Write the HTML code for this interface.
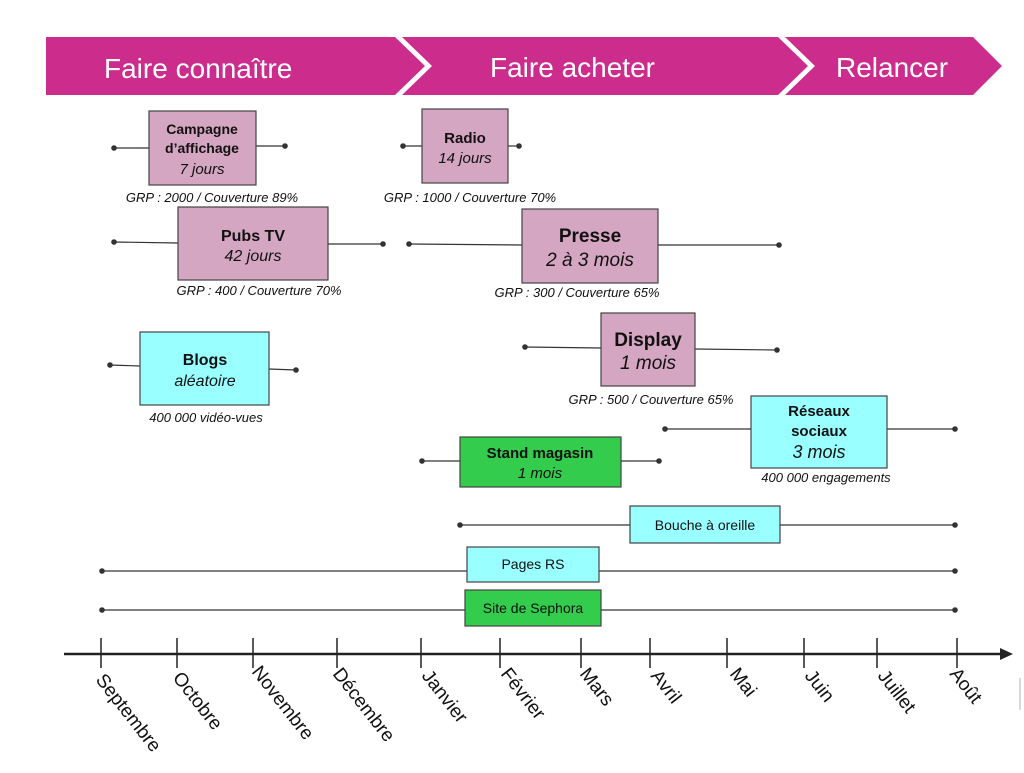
<!DOCTYPE html>
<html><head><meta charset="utf-8"><style>
body{margin:0;background:#fff;width:1024px;height:768px;overflow:hidden;font-family:"Liberation Sans",sans-serif}
svg text{font-family:"Liberation Sans",sans-serif}
</style></head><body>
<svg width="1024" height="768" viewBox="0 0 1024 768">
<g fill="#cc2d8c">
<polygon points="46,37 395,37 425,66 395,95 46,95"/>
<polygon points="402,37 778,37 808,66 778,95 402,95 432,66"/>
<polygon points="785,37 973,37 1002,66 973,95 785,95 815,66"/>
</g>
<g fill="#fff" font-size="28">
<text x="104" y="78">Faire connaître</text>
<text x="490" y="77">Faire acheter</text>
<text x="836" y="77">Relancer</text>
</g>
<g stroke="#333" stroke-width="1.2" fill="#333">
<line x1="114" y1="148" x2="149" y2="148"/><line x1="256" y1="146" x2="285" y2="146"/>
<circle cx="114" cy="148" r="2.2"/><circle cx="285" cy="146" r="2.2"/>
<line x1="403" y1="146" x2="422" y2="146"/><line x1="508" y1="146" x2="519" y2="146"/>
<circle cx="403" cy="146" r="2.2"/><circle cx="519" cy="146" r="2.2"/>
<line x1="114" y1="242" x2="178" y2="243"/><line x1="328" y1="244" x2="383" y2="244"/>
<circle cx="114" cy="242" r="2.2"/><circle cx="383" cy="244" r="2.2"/>
<line x1="409" y1="244" x2="522" y2="245"/><line x1="658" y1="245" x2="779" y2="245"/>
<circle cx="409" cy="244" r="2.2"/><circle cx="779" cy="245" r="2.2"/>
<line x1="110" y1="365" x2="140" y2="366"/><line x1="269" y1="369" x2="296" y2="370"/>
<circle cx="110" cy="365" r="2.2"/><circle cx="296" cy="370" r="2.2"/>
<line x1="525" y1="347" x2="601" y2="348"/><line x1="695" y1="349" x2="777" y2="350"/>
<circle cx="525" cy="347" r="2.2"/><circle cx="777" cy="350" r="2.2"/>
<line x1="665" y1="429" x2="751" y2="429"/><line x1="887" y1="429" x2="955" y2="429"/>
<circle cx="665" cy="429" r="2.2"/><circle cx="955" cy="429" r="2.2"/>
<line x1="422" y1="461" x2="460" y2="461"/><line x1="621" y1="461" x2="659" y2="461"/>
<circle cx="422" cy="461" r="2.2"/><circle cx="659" cy="461" r="2.2"/>
<line x1="460" y1="525" x2="955" y2="525"/>
<circle cx="460" cy="525" r="2.2"/><circle cx="955" cy="525" r="2.2"/>
<line x1="102" y1="571" x2="955" y2="571"/>
<circle cx="102" cy="571" r="2.2"/><circle cx="955" cy="571" r="2.2"/>
<line x1="102" y1="610" x2="955" y2="610"/>
<circle cx="102" cy="610" r="2.2"/><circle cx="955" cy="610" r="2.2"/>
</g>
<g stroke="#444" stroke-width="1.2">
<rect x="149" y="111" width="107" height="74" fill="#d5a6c1"/>
<rect x="422" y="109" width="86" height="74" fill="#d5a6c1"/>
<rect x="178" y="207" width="150" height="73" fill="#d5a6c1"/>
<rect x="522" y="209" width="136" height="74" fill="#d5a6c1"/>
<rect x="140" y="332" width="129" height="73" fill="#99ffff"/>
<rect x="601" y="313" width="94" height="73" fill="#d5a6c1"/>
<rect x="751" y="396" width="136" height="72" fill="#99ffff"/>
<rect x="460" y="437" width="161" height="50" fill="#33cc4d"/>
<rect x="630" y="506" width="150" height="37" fill="#99ffff"/>
<rect x="467" y="547" width="132" height="35" fill="#99ffff"/>
<rect x="465" y="590" width="136" height="36" fill="#33cc4d"/>
</g>
<g text-anchor="middle" fill="#111">
<text x="202" y="134" font-size="14" font-weight="bold">Campagne</text>
<text x="202" y="153" font-size="14" font-weight="bold">d’affichage</text>
<text x="202" y="174" font-size="15" font-style="italic">7 jours</text>
<text x="465" y="143" font-size="15" font-weight="bold">Radio</text>
<text x="465" y="163" font-size="15" font-style="italic">14 jours</text>
<text x="253" y="241" font-size="16" font-weight="bold">Pubs TV</text>
<text x="253" y="261" font-size="16" font-style="italic">42 jours</text>
<text x="590" y="242" font-size="19" font-weight="bold">Presse</text>
<text x="590" y="266" font-size="19" font-style="italic">2 à 3 mois</text>
<text x="205" y="365" font-size="16" font-weight="bold">Blogs</text>
<text x="205" y="386" font-size="16" font-style="italic">aléatoire</text>
<text x="648" y="346" font-size="19" font-weight="bold">Display</text>
<text x="648" y="369" font-size="19" font-style="italic">1 mois</text>
<text x="819" y="416" font-size="15" font-weight="bold">Réseaux</text>
<text x="819" y="436" font-size="15" font-weight="bold">sociaux</text>
<text x="819" y="458" font-size="18" font-style="italic">3 mois</text>
<text x="540" y="458" font-size="15" font-weight="bold">Stand magasin</text>
<text x="540" y="478" font-size="15" font-style="italic">1 mois</text>
<text x="705" y="530" font-size="14">Bouche à oreille</text>
<text x="533" y="569" font-size="14">Pages RS</text>
<text x="533" y="613" font-size="14">Site de Sephora</text>
<g font-size="13" font-style="italic">
<text x="212" y="202">GRP : 2000 / Couverture 89%</text>
<text x="470" y="202">GRP : 1000 / Couverture 70%</text>
<text x="259" y="295">GRP : 400 / Couverture 70%</text>
<text x="577" y="297">GRP : 300 / Couverture 65%</text>
<text x="206" y="422">400 000 vidéo-vues</text>
<text x="651" y="404">GRP : 500 / Couverture 65%</text>
<text x="826" y="482">400 000 engagements</text>
</g>
</g>
<line x1="64" y1="654" x2="1003" y2="654" stroke="#222" stroke-width="2.5"/>
<polygon points="1000,648 1013,654 1000,660" fill="#222"/>
<line x1="1020" y1="678" x2="1020" y2="710" stroke="#ccc" stroke-width="1.5"/>
<g stroke="#222" stroke-width="1.5">
<line x1="101" y1="638" x2="101" y2="668"/><line x1="177" y1="638" x2="177" y2="668"/>
<line x1="253" y1="638" x2="253" y2="668"/><line x1="337" y1="638" x2="337" y2="668"/>
<line x1="421" y1="638" x2="421" y2="668"/><line x1="500" y1="638" x2="500" y2="668"/>
<line x1="581" y1="638" x2="581" y2="668"/><line x1="650" y1="638" x2="650" y2="668"/>
<line x1="727" y1="638" x2="727" y2="668"/><line x1="804" y1="638" x2="804" y2="668"/>
<line x1="877" y1="638" x2="877" y2="668"/><line x1="957" y1="638" x2="957" y2="668"/>
</g>
<g font-size="19" fill="#111">
<text transform="translate(95,680) rotate(52)">Septembre</text>
<text transform="translate(172,678) rotate(52)">Octobre</text>
<text transform="translate(251,672) rotate(52)">Novembre</text>
<text transform="translate(332,674) rotate(52)">Décembre</text>
<text transform="translate(421,676) rotate(52)">Janvier</text>
<text transform="translate(500,674) rotate(52)">Février</text>
<text transform="translate(579,674) rotate(52)">Mars</text>
<text transform="translate(650,676) rotate(52)">Avril</text>
<text transform="translate(729,674) rotate(52)">Mai</text>
<text transform="translate(804,676) rotate(52)">Juin</text>
<text transform="translate(877,676) rotate(52)">Juillet</text>
<text transform="translate(949,674) rotate(52)">Août</text>
</g>
</svg>
</body></html>
